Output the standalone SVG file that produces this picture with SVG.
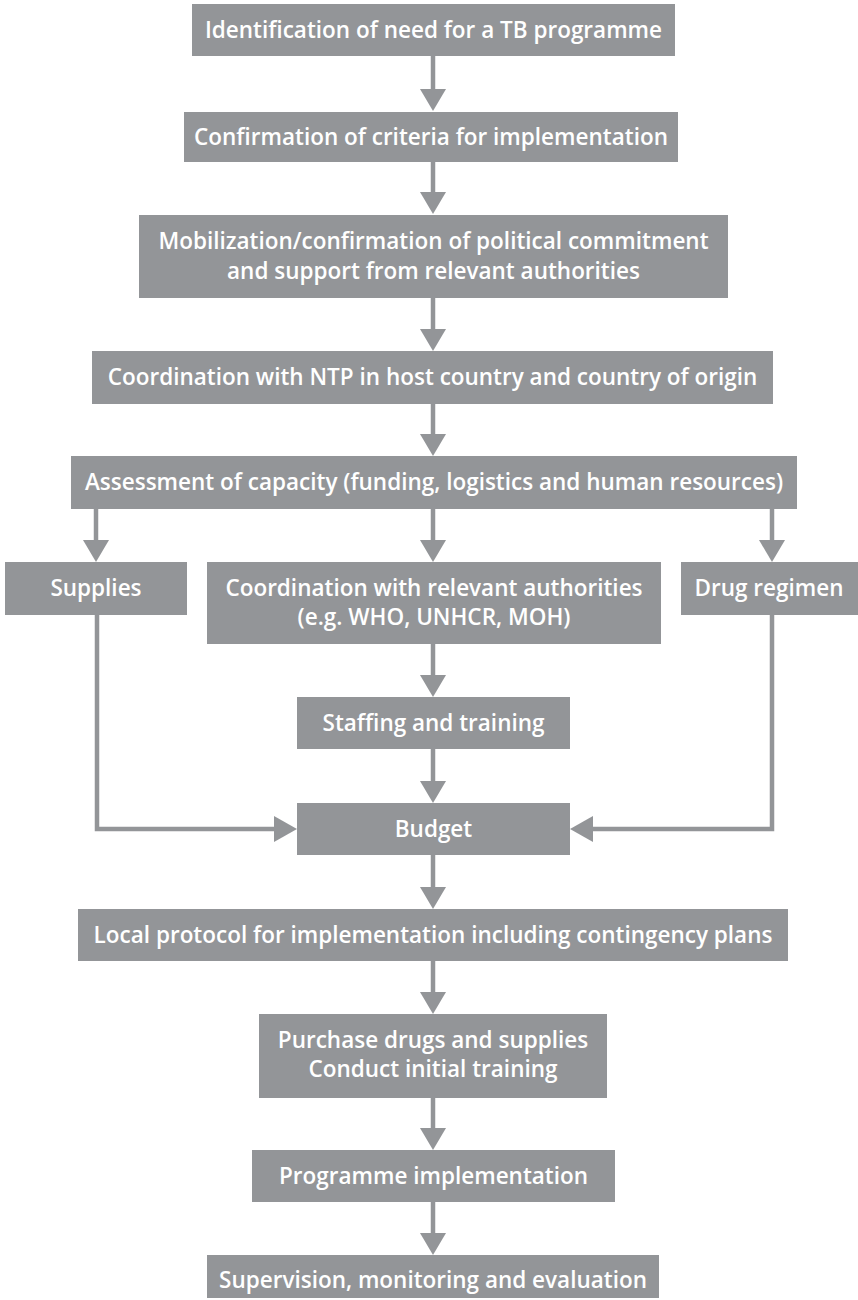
<svg xmlns="http://www.w3.org/2000/svg" width="858" height="1300" viewBox="0 0 858 1300">
<style>
.box{fill:#939598}
.t{fill:#ffffff;font-family:"Open Sans","Noto Sans",sans-serif;font-weight:600;font-size:22.5px;text-anchor:middle}
.ln{stroke:#939598;stroke-width:4.5;fill:none}
.hd{fill:#939598}
</style>
<defs>
<polygon id="down" points="-13,-22 13,-22 0,0" class="hd"/>
</defs>
<rect width="858" height="1300" fill="#ffffff"/>
<g id="connectors">
<line class="ln" x1="433" y1="56" x2="433" y2="92"/><use href="#down" x="433" y="111"/>
<line class="ln" x1="433" y1="162" x2="433" y2="194"/><use href="#down" x="433" y="214"/>
<line class="ln" x1="433" y1="298" x2="433" y2="330"/><use href="#down" x="433" y="351"/>
<line class="ln" x1="433" y1="404" x2="433" y2="436"/><use href="#down" x="433" y="456"/>
<line class="ln" x1="96" y1="509" x2="96" y2="542"/><use href="#down" x="96" y="562"/>
<line class="ln" x1="433" y1="509" x2="433" y2="542"/><use href="#down" x="433" y="562"/>
<line class="ln" x1="772" y1="509" x2="772" y2="542"/><use href="#down" x="772" y="562"/>
<line class="ln" x1="433" y1="644" x2="433" y2="678"/><use href="#down" x="433" y="697"/>
<line class="ln" x1="433" y1="749" x2="433" y2="784"/><use href="#down" x="433" y="803"/>
<polyline class="ln" points="97,615 97,829 278,829"/><polygon class="hd" points="274,816 274,842 297,829"/>
<polyline class="ln" points="772,615 772,829 590,829"/><polygon class="hd" points="593,816 593,842 570,829"/>
<line class="ln" x1="433" y1="855" x2="433" y2="890"/><use href="#down" x="433" y="909"/>
<line class="ln" x1="433" y1="961" x2="433" y2="995"/><use href="#down" x="433" y="1014"/>
<line class="ln" x1="433" y1="1098" x2="433" y2="1131"/><use href="#down" x="433" y="1150"/>
<line class="ln" x1="433" y1="1202" x2="433" y2="1236"/><use href="#down" x="433" y="1255"/>
</g>
<g id="n1"><rect class="box" x="192" y="4" width="483" height="52"/><text class="t" x="433.5" y="38">Identification of need for a TB programme</text></g>
<g id="n2"><rect class="box" x="184" y="112" width="494" height="50"/><text class="t" x="431" y="145">Confirmation of criteria for implementation</text></g>
<g id="n3"><rect class="box" x="139" y="215" width="589" height="83"/><text class="t" x="433.5" y="249">Mobilization/confirmation of political commitment</text><text class="t" x="433.5" y="279">and support from relevant authorities</text></g>
<g id="n4"><rect class="box" x="92" y="351" width="681" height="53"/><text class="t" x="432.5" y="385">Coordination with NTP in host country and country of origin</text></g>
<g id="n5"><rect class="box" x="71" y="456" width="726" height="53"/><text class="t" x="434" y="490">Assessment of capacity (funding, logistics and human resources)</text></g>
<g id="n6"><rect class="box" x="5" y="562" width="182" height="53"/><text class="t" x="96" y="596">Supplies</text></g>
<g id="n7"><rect class="box" x="207" y="562" width="454" height="82"/><text class="t" x="434" y="596">Coordination with relevant authorities</text><text class="t" x="434" y="625">(e.g. WHO, UNHCR, MOH)</text></g>
<g id="n8"><rect class="box" x="681" y="562" width="177" height="53"/><text class="t" x="769" y="596">Drug regimen</text></g>
<g id="n9"><rect class="box" x="297" y="697" width="273" height="52"/><text class="t" x="433.5" y="731">Staffing and training</text></g>
<g id="n10"><rect class="box" x="297" y="803" width="273" height="52"/><text class="t" x="433.5" y="837">Budget</text></g>
<g id="n11"><rect class="box" x="78" y="909" width="710" height="52"/><text class="t" x="433" y="943">Local protocol for implementation including contingency plans</text></g>
<g id="n12"><rect class="box" x="259" y="1014" width="348" height="84"/><text class="t" x="433" y="1048">Purchase drugs and supplies</text><text class="t" x="433" y="1077">Conduct initial training</text></g>
<g id="n13"><rect class="box" x="252" y="1150" width="363" height="52"/><text class="t" x="433.5" y="1184">Programme implementation</text></g>
<g id="n14"><rect class="box" x="207" y="1255" width="452" height="43"/><text class="t" x="433" y="1288">Supervision, monitoring and evaluation</text></g>
</svg>
